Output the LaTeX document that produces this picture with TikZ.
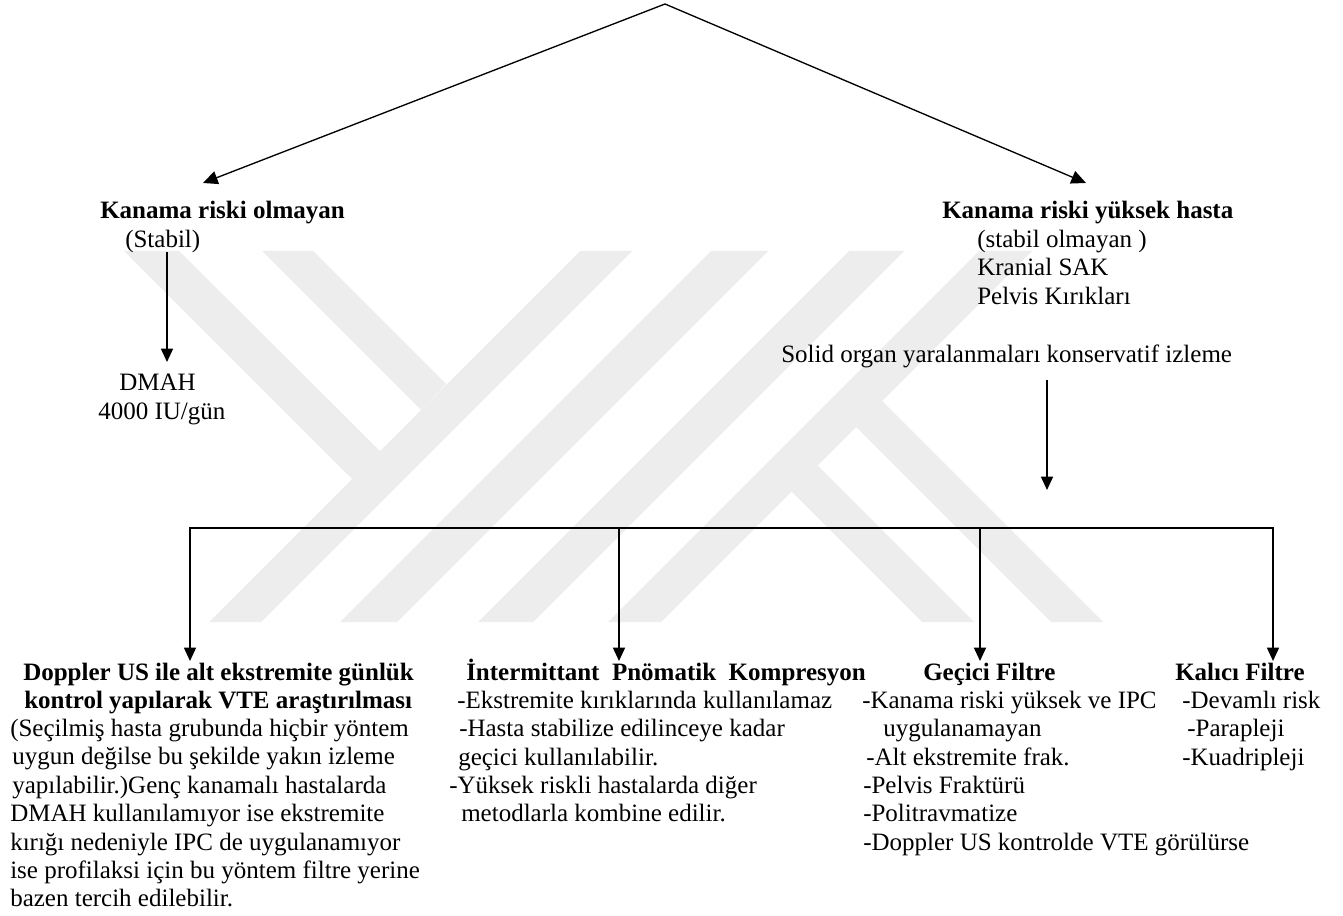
\documentclass[tikz,border=0pt]{standalone}
\usepackage{fontspec}
\setmainfont{Liberation Serif}
\usetikzlibrary{arrows.meta}
\begin{document}
\begin{tikzpicture}[x=0.75pt,y=-0.75pt,
  txt/.style={anchor=base west,inner sep=0pt,font=\fontsize{18.75pt}{21pt}\selectfont},
  btxt/.style={anchor=base west,inner sep=0pt,font=\fontsize{18.75pt}{21pt}\selectfont\bfseries},
  wm/.style={fill=black!7,draw=none},
  arr/.style={line width=1.2pt,-{Triangle[length=10pt,width=9pt]}},
  diag/.style={line width=1pt,-{Triangle[length=11pt,width=10pt]}},
  bus/.style={line width=1.8pt,line cap=rect}]
\useasboundingbox (0,0) rectangle (1343,916);
\fill[white] (0,0) rectangle (1343,916);
% watermark (Y part)
\fill[wm] (124,251)--(179,251)--(380,451)--(352,479)--cycle;
\fill[wm] (262,251)--(313,251)--(446,384)--(421,410)--cycle;
\fill[wm] (580,251)--(632,251)--(261,622)--(209,622)--cycle;
% parallel strokes
\fill[wm] (711,251)--(768,251)--(397,622)--(340,622)--cycle;
\fill[wm] (849,251)--(904,251)--(533,622)--(478,622)--cycle;
% K part
\fill[wm] (979,251)--(1032,251)--(661,622)--(608,622)--cycle;
\fill[wm] (882,401)--(1103,622)--(1051,622)--(856,427)--cycle;
\fill[wm] (817.5,465.5)--(974,622)--(922,622)--(791.5,491.5)--cycle;
% top
\coordinate (ap) at (665,4);
\coordinate (lt) at (203,183);
\coordinate (rt) at (1086,183);
\draw[diag] (ap) -- (lt);
\draw[diag] (ap) -- (rt);
\node[btxt] (nr) at (100,219) {Kanama riski olmayan};
\node[txt] (st) at (125,248) {(Stabil)};
\node[txt] (dm) at (119,391) {DMAH};
\node[txt] (dm2) at (98,420) {4000 IU/gün};
\coordinate (a1s) at (167,252);
\coordinate (a1e) at (167,362);
\draw[arr] (a1s) -- (a1e);
\node[btxt] (hr) at (942,219) {Kanama riski yüksek hasta};
\node[txt] (hr1) at (977,248) {(stabil olmayan )};
\node[txt] (hr2) at (977,276) {Kranial SAK};
\node[txt] (hr3) at (977,305) {Pelvis Kırıkları};
\node[txt] (so) at (781,363) {Solid organ yaralanmaları konservatif izleme};
\coordinate (a2s) at (1047,380);
\coordinate (a2e) at (1047,490);
\draw[arr] (a2s) -- (a2e);
% bus
\coordinate (b1) at (190,528);
\coordinate (b2) at (619,528);
\coordinate (b3) at (980,528);
\coordinate (b4) at (1273,528);
\draw[bus] (b1) -- (b4);
\coordinate (t1) at (190,661);
\coordinate (t2) at (619,661);
\coordinate (t3) at (980,661);
\coordinate (t4) at (1273,661);
\draw[arr] (b1) -- (t1);
\draw[arr] (b2) -- (t2);
\draw[arr] (b3) -- (t3);
\draw[arr] (b4) -- (t4);
% Doppler
\node[btxt] (d0) at (23,680) {Doppler US ile alt ekstremite günlük};
\node[btxt] (d1) at (24,708) {kontrol yapılarak VTE araştırılması};
\node[txt] (d2) at (10,736) {(Seçilmiş hasta grubunda hiçbir yöntem};
\node[txt] (d3) at (12,764) {uygun değilse bu şekilde yakın izleme};
\node[txt] (d4) at (12,793) {yapılabilir.)Genç kanamalı hastalarda};
\node[txt] (d5) at (10,821) {DMAH kullanılamıyor ise ekstremite};
\node[txt] (d6) at (10,850) {kırığı nedeniyle IPC de uygulanamıyor};
\node[txt] (d7) at (10,878) {ise profilaksi için bu yöntem filtre yerine};
\node[txt] (d8) at (10,906) {bazen tercih edilebilir.};
% IPC
\node[btxt] (i0) at (466,680) {İntermittant\ \ Pnömatik\ \ Kompresyon};
\node[txt] (i1) at (457,708) {-Ekstremite kırıklarında kullanılamaz};
\node[txt] (i2) at (459,736) {-Hasta stabilize edilinceye kadar};
\node[txt] (i3) at (458,765) {geçici kullanılabilir.};
\node[txt] (i4) at (449,793) {-Yüksek riskli hastalarda diğer};
\node[txt] (i5) at (461,821) {metodlarla kombine edilir.};
% Gecici
\node[btxt] (g0) at (923,680) {Geçici Filtre};
\node[txt] (g1) at (862,708) {-Kanama riski yüksek ve IPC};
\node[txt] (g2) at (883,736) {uygulanamayan};
\node[txt] (g3) at (866,765) {-Alt ekstremite frak.};
\node[txt] (g4) at (863,793) {-Pelvis Fraktürü};
\node[txt] (g5) at (863,821) {-Politravmatize};
\node[txt] (g6) at (863,850) {-Doppler US kontrolde VTE görülürse};
% Kalici
\node[btxt] (k0) at (1175,680) {Kalıcı Filtre};
\node[txt] (k1) at (1182,708) {-Devamlı risk};
\node[txt] (k2) at (1187,736) {-Parapleji};
\node[txt] (k3) at (1182,765) {-Kuadripleji};
\end{tikzpicture}
\end{document}
